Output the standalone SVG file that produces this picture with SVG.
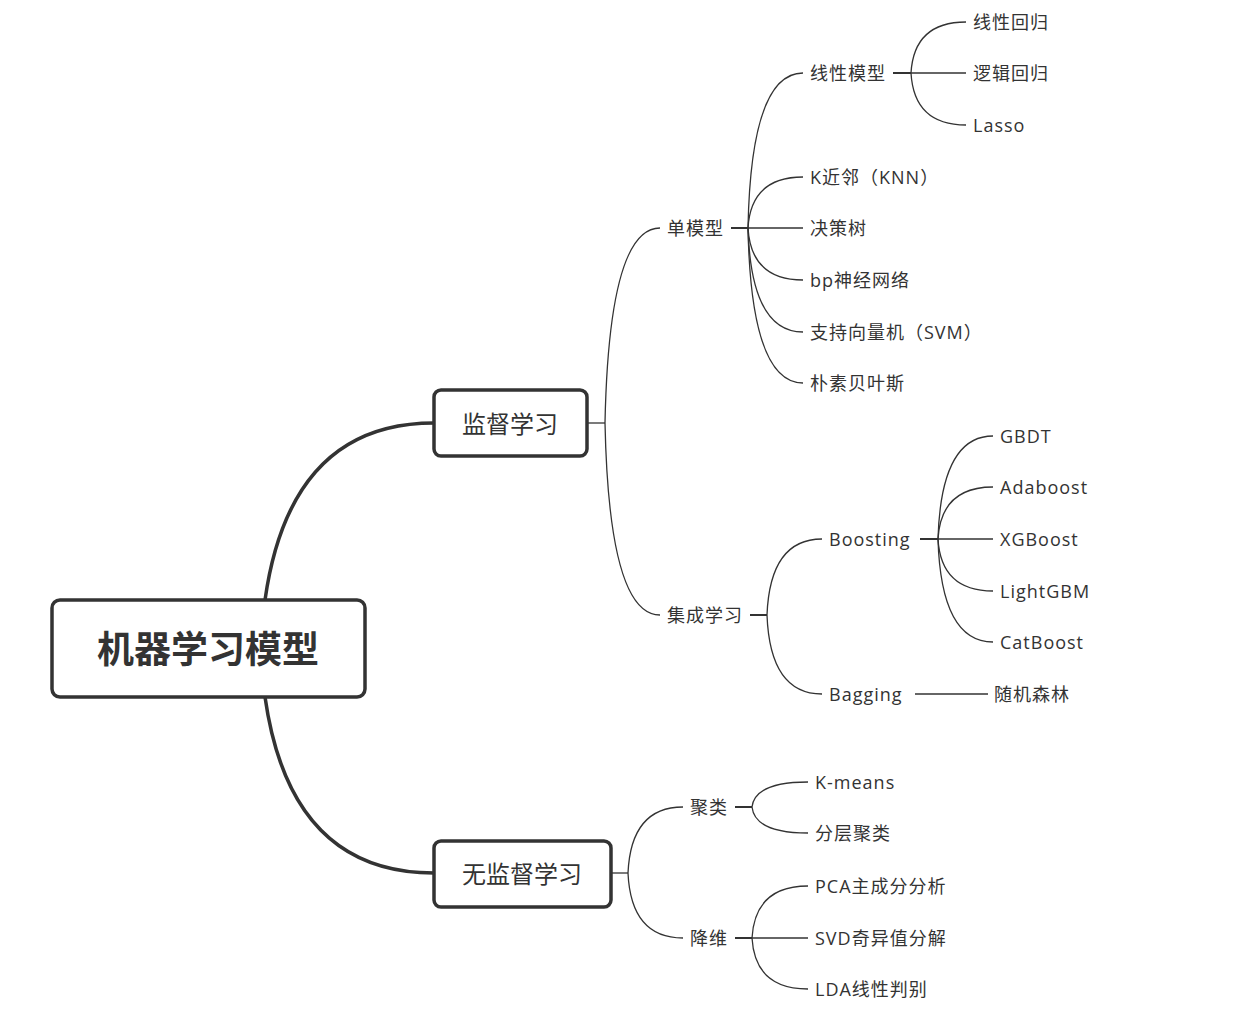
<svg xmlns="http://www.w3.org/2000/svg" width="1255" height="1019" viewBox="0 0 1255 1019">
<style>
text{font-family:"Open Sans","Noto Sans CJK SC",sans-serif;fill:#333;dominant-baseline:central}
.leaf{font-size:18px;letter-spacing:1px}
.main{font-size:24px;text-anchor:middle}
.root{font-size:37px;font-weight:bold;text-anchor:middle}
.box{fill:#fff;stroke:#333;stroke-width:3.5}
.thick{fill:none;stroke:#333;stroke-width:3.5}
.c{fill:none;stroke:#333;stroke-width:1.3}
.s{fill:none;stroke:#333;stroke-width:2}
</style>
<rect width="1255" height="1019" fill="#fff"/>
<g id="connectors">
<path class="thick" d="M265,600 Q290,423 434,423"/>
<path class="thick" d="M265,697 Q290,873 434,873"/>
<path class="c" d="M587,423 H605"/>
<path class="c" d="M605,423 Q609,228 660,228"/>
<path class="c" d="M605,423 Q609,615 660,615"/>
<path class="s" d="M731,228 H748"/>
<path class="c" d="M748,228 Q751,73 803,73"/>
<path class="c" d="M748,228 Q751,177 803,177"/>
<path class="c" d="M748,228 H803"/>
<path class="c" d="M748,228 Q751,280 803,280"/>
<path class="c" d="M748,228 Q751,332 803,332"/>
<path class="c" d="M748,228 Q751,383 803,383"/>
<path class="s" d="M893,73 H911"/>
<path class="c" d="M911,73 Q914,22 966,22"/>
<path class="c" d="M911,73 H966"/>
<path class="c" d="M911,73 Q914,125 966,125"/>
<path class="s" d="M750,615 H767"/>
<path class="c" d="M767,615 Q770,539 822,539"/>
<path class="c" d="M767,615 Q770,694 822,694"/>
<path class="s" d="M920,539 H938"/>
<path class="c" d="M938,539 Q941,436 993,436"/>
<path class="c" d="M938,539 Q941,487 993,487"/>
<path class="c" d="M938,539 H993"/>
<path class="c" d="M938,539 Q941,591 993,591"/>
<path class="c" d="M938,539 Q941,642 993,642"/>
<path class="c" d="M915,694 H988"/>
<path class="c" d="M611,873 H628"/>
<path class="c" d="M628,873 Q631,807 683,807"/>
<path class="c" d="M628,873 Q631,938 683,938"/>
<path class="s" d="M735,807 H752"/>
<path class="c" d="M752,807 Q755,782 808,782"/>
<path class="c" d="M752,807 Q755,833 808,833"/>
<path class="s" d="M735,938 H752"/>
<path class="c" d="M752,938 Q755,886 808,886"/>
<path class="c" d="M752,938 H808"/>
<path class="c" d="M752,938 Q755,989 808,989"/>
</g>
<g id="root"><rect class="box" x="52" y="600" width="313" height="97" rx="8"/><text class="root" x="208" y="648">机器学习模型</text></g>
<g id="supervised"><rect class="box" x="434" y="390" width="153" height="66" rx="7"/><text class="main" x="510" y="423">监督学习</text></g>
<g id="unsupervised"><rect class="box" x="434" y="841" width="177" height="66" rx="7"/><text class="main" x="522" y="873">无监督学习</text></g>
<g id="n-single"><text class="leaf" x="667" y="228">单模型</text></g>
<g id="n-ensemble"><text class="leaf" x="667" y="615">集成学习</text></g>
<g id="n-linear"><text class="leaf" x="810" y="73">线性模型</text></g>
<g id="n-knn"><text class="leaf" x="810" y="177">K近邻（KNN）</text></g>
<g id="n-tree"><text class="leaf" x="810" y="228">决策树</text></g>
<g id="n-bp"><text class="leaf" x="810" y="280">bp神经网络</text></g>
<g id="n-svm"><text class="leaf" x="810" y="332">支持向量机（SVM）</text></g>
<g id="n-nb"><text class="leaf" x="810" y="383">朴素贝叶斯</text></g>
<g id="n-linreg"><text class="leaf" x="973" y="22">线性回归</text></g>
<g id="n-logreg"><text class="leaf" x="973" y="73">逻辑回归</text></g>
<g id="n-lasso"><text class="leaf" x="973" y="125">Lasso</text></g>
<g id="n-boosting"><text class="leaf" x="829" y="539">Boosting</text></g>
<g id="n-bagging"><text class="leaf" x="829" y="694">Bagging</text></g>
<g id="n-gbdt"><text class="leaf" x="1000" y="436">GBDT</text></g>
<g id="n-ada"><text class="leaf" x="1000" y="487">Adaboost</text></g>
<g id="n-xgb"><text class="leaf" x="1000" y="539">XGBoost</text></g>
<g id="n-lgbm"><text class="leaf" x="1000" y="591">LightGBM</text></g>
<g id="n-cat"><text class="leaf" x="1000" y="642">CatBoost</text></g>
<g id="n-rf"><text class="leaf" x="994" y="694">随机森林</text></g>
<g id="n-cluster"><text class="leaf" x="690" y="807">聚类</text></g>
<g id="n-dimred"><text class="leaf" x="690" y="938">降维</text></g>
<g id="n-kmeans"><text class="leaf" x="815" y="782">K-means</text></g>
<g id="n-hier"><text class="leaf" x="815" y="833">分层聚类</text></g>
<g id="n-pca"><text class="leaf" x="815" y="886">PCA主成分分析</text></g>
<g id="n-svd"><text class="leaf" x="815" y="938">SVD奇异值分解</text></g>
<g id="n-lda"><text class="leaf" x="815" y="989">LDA线性判别</text></g>
</svg>
